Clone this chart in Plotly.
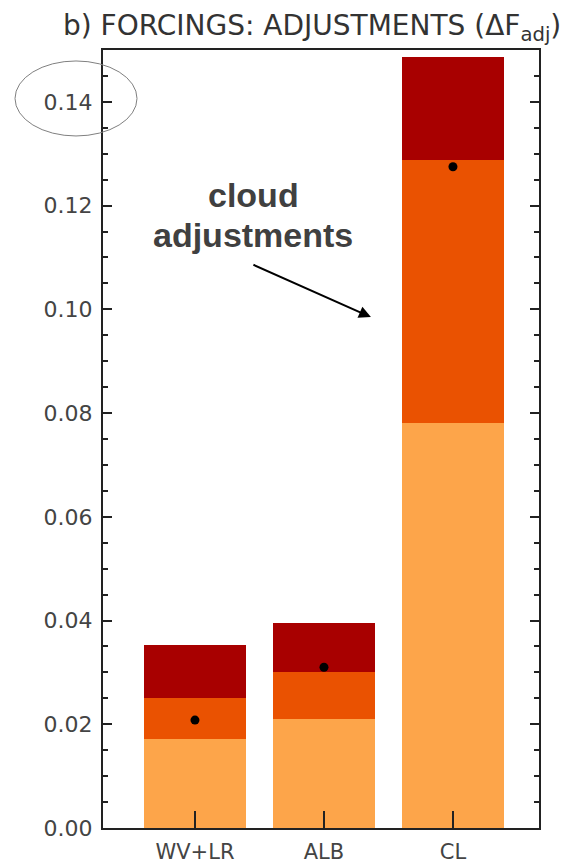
import plotly.graph_objects as go

# Adjustment ranges per feedback term
categories = ["WV+LR", "ALB", "CL"]
lower = [0.0172, 0.0210, 0.0781]    # bottom of the spread
middle = [0.0251, 0.0301, 0.1288]   # intermediate level
upper = [0.0353, 0.0395, 0.1487]    # top of the spread
mean_vals = [0.0208, 0.0310, 0.1275]

y_ticks = [0.00, 0.02, 0.04, 0.06, 0.08, 0.10, 0.12, 0.14]

xpos = list(range(len(categories)))
seg_mid = [m - l for m, l in zip(middle, lower)]
seg_top = [u - m for u, m in zip(upper, middle)]

fig = go.Figure()
fig.add_trace(go.Bar(x=xpos, y=lower, marker=dict(color="#FDA54A", line=dict(width=0)), width=0.79))
fig.add_trace(go.Bar(x=xpos, y=seg_mid, marker=dict(color="#EA5201", line=dict(width=0)), width=0.79))
fig.add_trace(go.Bar(x=xpos, y=seg_top, marker=dict(color="#A80000", line=dict(width=0)), width=0.79))
fig.add_trace(go.Scatter(x=xpos, y=mean_vals, mode="markers",
                         marker=dict(color="black", size=9, line=dict(width=0))))

fig.update_layout(
    barmode="stack",
    width=580, height=867,
    margin=dict(l=103, r=41, t=50, b=39, autoexpand=False),
    paper_bgcolor="white", plot_bgcolor="white",
    showlegend=False,
    title=dict(text="b) FORCINGS: ADJUSTMENTS (ΔF<sub>adj</sub>)",
               font=dict(family="DejaVu Sans", size=28, color="#333333"),
               x=63 / 580, xanchor="left", y=1 - 25 / 867, yanchor="middle"),
)

fig.update_xaxes(
    range=[-0.713, 2.667], automargin=False,
    tickvals=xpos, ticktext=categories,
    ticks="inside", ticklen=17, tickwidth=2, tickcolor="#222222",
    showline=True, linecolor="#222222", linewidth=2, mirror=True,
    showgrid=False, zeroline=False, ticklabelstandoff=4,
    tickfont=dict(family="DejaVu Sans", size=21, color="#444444"),
)
fig.update_yaxes(
    range=[0, 0.15], automargin=False,
    tickvals=y_ticks, tickformat=".2f",
    ticks="inside", ticklen=9, tickwidth=2, tickcolor="#222222",
    minor=dict(dtick=0.005, ticks="inside", ticklen=5, tickwidth=2, tickcolor="#222222", showgrid=False),
    showline=True, linecolor="#222222", linewidth=2, mirror="ticks",
    showgrid=False, zeroline=False, ticklabelstandoff=4,
    tickfont=dict(family="DejaVu Sans", size=22, color="#444444"),
)

# Label and arrow pointing at the cloud bar
label_font = dict(family="Liberation Sans", size=34, color="#404040")
fig.add_annotation(text="<b>cloud</b>", x=0.45, y=0.1221, xref="x", yref="y",
                   showarrow=False, font=label_font)
fig.add_annotation(text="<b>adjustments</b>", x=0.45, y=0.1143, xref="x", yref="y",
                   showarrow=False, font=label_font)
fig.add_annotation(text="", x=1.364, y=0.0985, xref="x", yref="y",
                   ax=-119, ay=-53, showarrow=True, arrowhead=2, arrowsize=1.2,
                   arrowwidth=2, arrowcolor="black")

# Ellipse around the top tick label
fig.add_shape(type="circle", xref="paper", yref="paper",
              x0=-0.2018, x1=0.078, y0=0.8895, y1=0.9859,
              line=dict(color="#808080", width=1))

fig.write_html("out.html")
